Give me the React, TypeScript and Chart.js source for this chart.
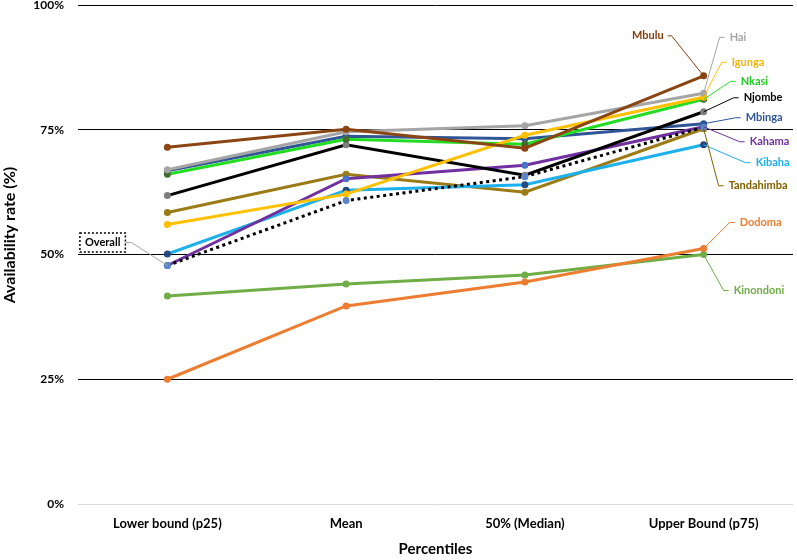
import React, { useEffect, useRef } from "react";
import { Chart, registerables } from "chart.js";

Chart.register(...registerables);

const FONT = "Lato, 'Open Sans', sans-serif";

// ---- data ----
const categories = ["Lower bound (p25)", "Mean", "50% (Median)", "Upper Bound (p75)"];
const yTicks = [0, 25, 50, 75, 100];

const overall = [47.8, 60.8, 65.6, 75.5];
const mbulu = [71.5, 75.1, 71.3, 85.8];
const hai = [67.0, 74.6, 75.8, 82.3];
const igunga = [56.0, 62.1, 73.9, 81.5];
const nkasi = [66.1, 73.1, 72.1, 81.1];
const njombe = [61.8, 72.0, 65.9, 78.6];
const mbinga = [66.8, 73.7, 73.2, 76.2];
const kahama = [47.8, 65.2, 67.9, 75.6];
const kibaha = [50.1, 62.9, 64.0, 72.0];
const tandahimba = [58.4, 66.1, 62.5, 75.2];
const dodoma = [25.0, 39.7, 44.5, 51.2];
const kinondoni = [41.7, 44.1, 45.9, 50.0];

const seriesNames = [
  "Overall", "Mbulu", "Hai", "Igunga", "Nkasi", "Njombe", "Mbinga",
  "Kahama", "Kibaha", "Tandahimba", "Dodoma", "Kinondoni",
];
const seriesValues = [
  overall, mbulu, hai, igunga, nkasi, njombe, mbinga,
  kahama, kibaha, tandahimba, dodoma, kinondoni,
];

// ---- styles (line colour, marker colour, label colour, label placement) ----
type Style = {
  line: string; marker: string; label: string; leader: string;
  idx: number; dx: number; dy: number; align: "left" | "right"; dotted?: boolean; boxed?: boolean;
};
const styles: Style[] = [
  { line: "#000000", marker: "#5B85C8", label: "#000000", leader: "#A6A6A6", idx: 0, dx: -42, dy: -23, align: "right", dotted: true, boxed: true },
  { line: "#8B4513", marker: "#8B4513", label: "#843C0C", leader: "#843C0C", idx: 3, dx: -40, dy: -40, align: "right" },
  { line: "#A5A5A5", marker: "#A5A5A5", label: "#A5A5A5", leader: "#A5A5A5", idx: 3, dx: 26, dy: -56, align: "left" },
  { line: "#FFC000", marker: "#FFC000", label: "#F2B800", leader: "#FFC000", idx: 3, dx: 28, dy: -35, align: "left" },
  { line: "#22DD22", marker: "#3F6E2F", label: "#1FCC1F", leader: "#22DD22", idx: 3, dx: 37, dy: -18, align: "left" },
  { line: "#000000", marker: "#7F7F7F", label: "#000000", leader: "#000000", idx: 3, dx: 40, dy: -14, align: "left" },
  { line: "#2F5597", marker: "#2F5597", label: "#2F5597", leader: "#2F5597", idx: 3, dx: 42, dy: -6, align: "left" },
  { line: "#7030A0", marker: "#4A72C4", label: "#7030A0", leader: "#7030A0", idx: 3, dx: 46, dy: 15, align: "left" },
  { line: "#1CB0EC", marker: "#264A80", label: "#1CB0EC", leader: "#1CB0EC", idx: 3, dx: 52, dy: 18, align: "left" },
  { line: "#9A7B15", marker: "#9A7B15", label: "#7F6000", leader: "#7F6000", idx: 3, dx: 25, dy: 57, align: "left" },
  { line: "#ED7D31", marker: "#ED7D31", label: "#ED7D31", leader: "#ED7D31", idx: 3, dx: 36, dy: -26, align: "left" },
  { line: "#70AD47", marker: "#70AD47", label: "#70AD47", leader: "#70AD47", idx: 3, dx: 30, dy: 36, align: "left" },
];

const labelPlugin = {
  id: "seriesLabels",
  afterDatasetsDraw(chart: any) {
    const c: CanvasRenderingContext2D = chart.ctx;
    c.save();
    c.font = `bold 11px ${FONT}`;
    c.textBaseline = "middle";
    seriesNames.forEach((name, i) => {
      const st = styles[i];
      const pt = chart.getDatasetMeta(i).data[st.idx];
      if (!pt) return;
      const px = pt.x, py = pt.y;
      const tx = px + st.dx, ty = py + st.dy;
      const w = c.measureText(name).width;
      c.strokeStyle = st.leader;
      c.lineWidth = 1;
      c.setLineDash([]);
      c.beginPath();
      c.moveTo(px, py);
      if (st.align === "left") {
        c.lineTo(tx - 10, ty);
        c.lineTo(tx - 5, ty);
      } else if (st.boxed) {
        c.lineTo(tx + 6, ty);
        c.lineTo(tx, ty);
      } else {
        c.lineTo(tx + 8, ty);
        c.lineTo(tx + 4, ty);
      }
      c.stroke();
      if (st.boxed) {
        const bx = tx - w - 10, by = ty - 9.5;
        c.fillStyle = "#FFFFFF";
        c.fillRect(bx, by, w + 10, 19);
        c.strokeStyle = "#000000";
        c.lineWidth = 1.5;
        c.setLineDash([2, 2]);
        c.strokeRect(bx, by, w + 10, 19);
        c.setLineDash([]);
        c.fillStyle = st.label;
        c.textAlign = "left";
        c.fillText(name, bx + 5, ty);
      } else {
        c.fillStyle = st.label;
        c.textAlign = st.align;
        c.fillText(name, tx, ty);
      }
    });
    c.restore();
  },
};

export default function App() {
  const ref = useRef<HTMLCanvasElement>(null);
  useEffect(() => {
    const canvas = ref.current;
    if (!canvas) return;
    const datasets = seriesNames.map((name, i) => {
      const st = styles[i];
      return {
        label: name,
        data: seriesValues[i],
        borderColor: st.line,
        backgroundColor: st.marker,
        pointBackgroundColor: st.marker,
        pointBorderWidth: 0,
        pointRadius: 3.5,
        borderWidth: 3,
        borderDash: st.dotted ? [3, 3.5] : [],
        tension: 0,
        fill: false,
      };
    });
    const chart = new Chart(canvas, {
      type: "line",
      data: { labels: categories, datasets },
      options: {
        responsive: false,
        animation: false,
        layout: { padding: { top: 5, right: 0, left: 0, bottom: 0 } },
        plugins: { legend: { display: false }, tooltip: { enabled: false } },
        scales: {
          x: {
            offset: true,
            grid: { display: false, drawTicks: false },
            border: { display: false },
            ticks: { font: { family: FONT, size: 13, weight: "bold" }, color: "#000", padding: 12 },
            title: {
              display: true,
              text: "Percentiles",
              font: { family: FONT, size: 15, weight: "bold" },
              color: "#000",
              padding: { top: 0, bottom: 2 },
            },
            afterFit: (s: any) => { s.height = 56; },
          },
          y: {
            min: 0,
            max: 100,
            afterBuildTicks: (s: any) => { s.ticks = yTicks.map((v) => ({ value: v })); },
            ticks: {
              callback: (v: any) => v + "%",
              font: { family: FONT, size: 12, weight: "bold", lineHeight: 0.8 },
              color: "#000",
              padding: 0,
            },
            grid: {
              color: (ctx: any) => (ctx.tick && ctx.tick.value === 0 ? "#D9D9D9" : "#000000"),
              lineWidth: 1,
              drawTicks: true,
              tickLength: 14,
              tickColor: "rgba(0,0,0,0)",
            },
            border: { display: false },
            title: {
              display: true,
              text: "          Availability rate (%)",
              font: { family: FONT, size: 16, weight: "bold" },
              color: "#000",
              padding: { top: 0, bottom: 0 },
            },
            afterFit: (s: any) => { s.width = 78; },
          },
        },
      },
      plugins: [labelPlugin],
    } as any);
    return () => chart.destroy();
  }, []);
  return (
    <div style={{ position: "fixed", left: 0, top: 0, width: 797, height: 560 }}>
      <canvas ref={ref} width={797} height={560} style={{ display: "block" }} />
    </div>
  );
}
